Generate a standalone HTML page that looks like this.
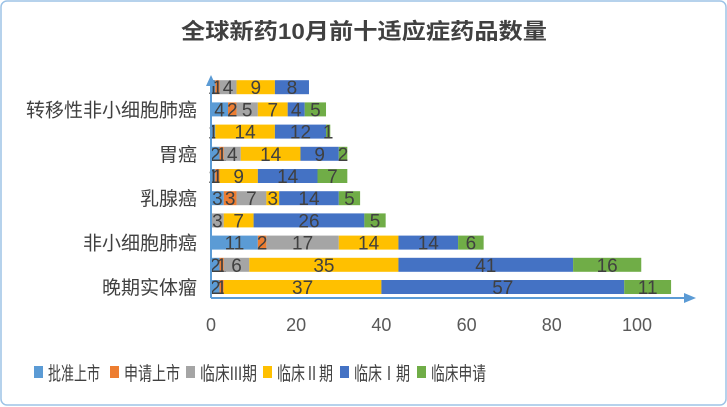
<!DOCTYPE html>
<html><head><meta charset="utf-8">
<style>
html,body{margin:0;padding:0;background:#fff;}
svg{display:block;font-family:"Liberation Sans","Noto Sans CJK SC",sans-serif;}
</style></head>
<body>
<svg id="chart" width="727" height="407">
<rect x="1" y="1" width="725" height="404" rx="6" fill="#fff" stroke="#9dc3e6" stroke-width="1.5"/>
<text x="364" y="39" text-anchor="middle" font-size="22" font-weight="bold" fill="#404040" textLength="366" lengthAdjust="spacingAndGlyphs">全球新药10月前十适应症药品数量</text>
<g id="bars"></g>
<g id="axes"></g>
<g id="legend"></g>
</svg>
<script>
const categories = ['晚期实体瘤','','非小细胞肺癌','','乳腺癌','','胃癌','','转移性非小细胞肺癌',''];
const seriesNames = ['批准上市','申请上市','临床III期','临床Ⅱ期','临床Ⅰ期','临床申请'];
const approved   = [2,2,11,0,3,1,2,1,4,1];
const applied    = [1,1,2,0,3,1,1,0,2,1];
const phase3     = [0,6,17,3,7,0,4,0,5,4];
const phase2     = [37,35,14,7,3,9,14,14,7,9];
const phase1     = [57,41,14,26,14,14,9,12,4,8];
const clinApply  = [11,16,6,5,5,7,2,1,5,0];
const xTicks = [0,20,40,60,80,100];

const colors = ['#5B9BD5','#ED7D31','#A5A5A5','#FFC000','#4472C4','#70AD47'];
const series = [approved,applied,phase3,phase2,phase1,clinApply];
const NS='http://www.w3.org/2000/svg';
const x0=211, pxPer=4.26, yBottom=287, rowH=22.2, barH=14;
const xs = v => x0 + v*pxPer;
const ys = i => yBottom - i*rowH;
function mk(tag, attrs, parent){const e=document.createElementNS(NS,tag);for(const k in attrs)e.setAttribute(k,attrs[k]);parent.appendChild(e);return e;}
const bars=document.getElementById('bars');
categories.forEach((c,i)=>{
  let acc=0;
  series.forEach((s,j)=>{
    const v=s[i];
    if(v>0){
      const r=mk('rect',{x:xs(acc),y:ys(i)-barH/2,width:v*pxPer,height:barH,fill:colors[j]},bars);
      
      
      const t=mk('text',{x:xs(acc+v/2),y:ys(i)+7,'text-anchor':'middle','font-size':19,fill:'#404040'},bars);
      t.textContent=v;
      
      
    }
    acc+=v;
  });
  if(c){
    const t=mk('text',{x:197,y:ys(i)+7,'text-anchor':'end','font-size':19,fill:'#404040'},bars);
    t.textContent=c;
    
    
  }
});
const axes=document.getElementById('axes');
const ya=mk('line',{x1:x0,y1:298,x2:x0,y2:82,stroke:'#5B9BD5','stroke-width':2},axes);


const yar=mk('polygon',{points:`${x0-5},86 ${x0+5},86 ${x0},75`,fill:'#5B9BD5'},axes);


const xa=mk('line',{x1:x0,y1:298,x2:686,y2:298,stroke:'#5B9BD5','stroke-width':2},axes);


const xar=mk('polygon',{points:`684,293 684,303 696,298`,fill:'#5B9BD5'},axes);


xTicks.forEach(v=>{
  const t=mk('text',{x:xs(v),y:331,'text-anchor':'middle','font-size':18,fill:'#595959'},axes);
  t.textContent=v;
  
  
});
const legend=document.getElementById('legend');
const lx=[34,110,186,263,340,417];
const lw=[52,56,57,56,56,55];
seriesNames.forEach((n,j)=>{
  const g=mk('g',{},legend);
  
  
  mk('rect',{x:lx[j],y:366,width:9,height:12,fill:colors[j]},g);
  const t=mk('text',{x:lx[j]+14,y:380,'font-size':19,fill:'#404040',textLength:lw[j],lengthAdjust:'spacingAndGlyphs'},g);
  t.textContent=n;
});
</script>
</body></html>
